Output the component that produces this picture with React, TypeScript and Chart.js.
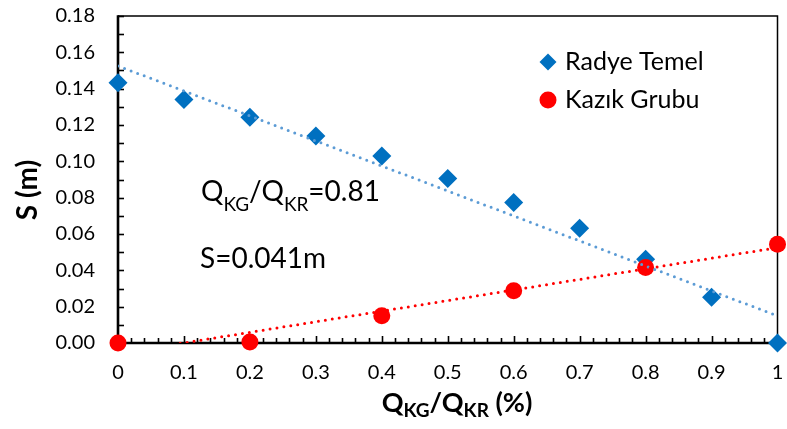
import React, { useEffect, useRef } from 'react';
import { Chart, registerables } from 'chart.js';

Chart.register(...registerables);

// ---- Data ----
const radyeX = [0, 0.1, 0.2, 0.3, 0.4, 0.5, 0.6, 0.7, 0.8, 0.9, 1.0];
const radyeTemel = [0.1433, 0.1341, 0.1242, 0.1139, 0.1029, 0.0906, 0.0774, 0.0631, 0.0461, 0.0252, 0.0];
const kazikX = [0, 0.2, 0.4, 0.6, 0.8, 1.0];
const kazikGrubu = [0.0, 0.0006, 0.015, 0.0288, 0.0415, 0.0543];

const xTickStep = 0.1;
const xMinorStep = 0.02;
const yTickStep = 0.02;
const yMinorStep = 0.01;
const xMin = 0, xMax = 1, yMin = 0, yMax = 0.18;

const legendLabels = ['Radye Temel', 'Kazık Grubu'];
const annotationRatio = '=0.81';
const annotationS = 'S=0.041m';

const BLUE = '#0070C0';
const BLUE_TREND = '#5B9BD5';
const RED = '#FF0000';
const FONT = 'Lato, "Open Sans", sans-serif';

function linReg(xs: number[], ys: number[]) {
  const n = xs.length;
  const mx = xs.reduce((a, b) => a + b, 0) / n;
  const my = ys.reduce((a, b) => a + b, 0) / n;
  let sxy = 0, sxx = 0;
  for (let i = 0; i < n; i++) {
    sxy += (xs[i] - mx) * (ys[i] - my);
    sxx += (xs[i] - mx) * (xs[i] - mx);
  }
  const m = sxy / sxx;
  return { m, b: my - m * mx };
}

function drawSubText(ctx: CanvasRenderingContext2D, parts: { t: string; sub?: boolean }[], x: number, y: number, mainFont: string, subFont: string, subDrop: number) {
  let cx = x;
  for (const p of parts) {
    ctx.font = p.sub ? subFont : mainFont;
    ctx.fillText(p.t, cx, p.sub ? y + subDrop : y);
    cx += ctx.measureText(p.t).width;
  }
  return cx - x;
}

function measureSubText(ctx: CanvasRenderingContext2D, parts: { t: string; sub?: boolean }[], mainFont: string, subFont: string) {
  let w = 0;
  for (const p of parts) {
    ctx.font = p.sub ? subFont : mainFont;
    w += ctx.measureText(p.t).width;
  }
  return w;
}

const decorPlugin = {
  id: 'decor',
  beforeDatasetsDraw(chart: any) {
    const { ctx, chartArea: a, scales } = chart;
    const x = scales.x, y = scales.y;
    ctx.save();
    ctx.strokeStyle = '#000';
    ctx.lineWidth = 1.5;
    ctx.beginPath();
    ctx.moveTo(a.left, a.top);
    ctx.lineTo(a.right, a.top);
    ctx.lineTo(a.right, a.bottom);
    ctx.stroke();
    // x ticks (inside)
    ctx.lineWidth = 1.6;
    const nx = Math.round((xMax - xMin) / xMinorStep);
    for (let i = 0; i <= nx; i++) {
      const v = xMin + i * xMinorStep;
      const px = Math.round(x.getPixelForValue(v)) + 0.5;
      const major = i % Math.round(xTickStep / xMinorStep) === 0;
      ctx.beginPath();
      ctx.moveTo(px, a.bottom);
      ctx.lineTo(px, a.bottom - (major ? 7 : 5));
      ctx.stroke();
    }
    const ny = Math.round((yMax - yMin) / yMinorStep);
    for (let i = 0; i <= ny; i++) {
      const v = yMin + i * yMinorStep;
      const py = Math.round(y.getPixelForValue(v)) + 0.5;
      ctx.beginPath();
      ctx.moveTo(a.left, py);
      ctx.lineTo(a.left + 6, py);
      ctx.stroke();
    }
    // main axes
    ctx.lineWidth = 2.6;
    ctx.beginPath();
    ctx.moveTo(a.left, a.top - 0.75);
    ctx.lineTo(a.left, a.bottom);
    ctx.lineTo(a.right + 0.75, a.bottom);
    ctx.stroke();
    ctx.restore();
  },
  afterDraw(chart: any) {
    const { ctx, chartArea: a } = chart;
    ctx.save();
    ctx.fillStyle = '#000';
    ctx.textBaseline = 'alphabetic';
    ctx.textAlign = 'left';

    // annotations
    drawSubText(ctx, [{ t: 'Q' }, { t: 'KG', sub: true }, { t: '/Q' }, { t: 'KR', sub: true }, { t: annotationRatio }], 201, 201, `28px ${FONT}`, `19px ${FONT}`, 10);
    ctx.font = `28px ${FONT}`;
    ctx.fillText(annotationS, 200, 268);

    // legend
    ctx.fillStyle = BLUE;
    ctx.beginPath();
    const lx = 548;
    ctx.moveTo(lx - 8.5, 62); ctx.lineTo(lx, 53.5); ctx.lineTo(lx + 8.5, 62); ctx.lineTo(lx, 70.5);
    ctx.closePath(); ctx.fill();
    ctx.fillStyle = RED;
    ctx.beginPath(); ctx.arc(lx, 100, 8.5, 0, Math.PI * 2); ctx.fill();
    ctx.fillStyle = '#000';
    ctx.font = `25px ${FONT}`;
    ctx.fillText(legendLabels[0], 565, 70);
    ctx.fillText(legendLabels[1], 565, 108);

    // x axis title
    const parts = [{ t: 'Q' }, { t: 'KG', sub: true }, { t: '/Q' }, { t: 'KR', sub: true }, { t: ' (%)' }];
    const mf = `bold 27px ${FONT}`, sf = `bold 19px ${FONT}`;
    const w = measureSubText(ctx, parts, mf, sf);
    const cx = 457;
    drawSubText(ctx, parts, cx - w / 2, 412, mf, sf, 5);

    // y axis title
    ctx.translate(28, 190);
    ctx.rotate(-Math.PI / 2);
    ctx.font = `bold 28px ${FONT}`;
    ctx.textAlign = 'center';
    ctx.textBaseline = 'middle';
    ctx.fillText('S (m)', 0, 0);
    ctx.restore();
  },
};

export default function App() {
  const ref = useRef<HTMLCanvasElement | null>(null);
  useEffect(() => {
    document.body.style.margin = '0';
    const canvas = ref.current;
    if (!canvas) return;
    const blueFit = linReg(radyeX, radyeTemel);
    const redFit = linReg(kazikX, kazikGrubu);
    const chart = new Chart(canvas, {
      type: 'scatter',
      data: {
        datasets: [
          {
            label: 'Radye Temel trend',
            type: 'line',
            data: [
              { x: xMin, y: blueFit.b },
              { x: xMax, y: blueFit.m * xMax + blueFit.b },
            ],
            borderColor: BLUE_TREND,
            borderWidth: 3,
            borderDash: [0, 7],
            borderCapStyle: 'round',
            pointRadius: 0,
            fill: false,
            order: 1,
          },
          {
            label: 'Kazık Grubu trend',
            type: 'line',
            data: [
              { x: xMin, y: redFit.b },
              { x: xMax, y: redFit.m * xMax + redFit.b },
            ],
            borderColor: RED,
            borderWidth: 3,
            borderDash: [0, 7],
            borderCapStyle: 'round',
            pointRadius: 0,
            fill: false,
            order: 0,
            clip: 0,
          },
          {
            label: legendLabels[0],
            data: radyeX.map((x, i) => ({ x, y: radyeTemel[i] })),
            pointStyle: 'rectRot',
            pointRadius: 9.5,
            pointBackgroundColor: BLUE,
            pointBorderColor: BLUE,
            pointBorderWidth: 0,
            order: 3,
            clip: false,
          },
          {
            label: legendLabels[1],
            data: kazikX.map((x, i) => ({ x, y: kazikGrubu[i] })),
            pointStyle: 'circle',
            pointRadius: 8.5,
            pointBackgroundColor: RED,
            pointBorderColor: RED,
            pointBorderWidth: 0,
            order: 2,
            clip: false,
          },
        ],
      } as any,
      options: {
        animation: false,
        responsive: false,
        layout: { padding: { left: 0, right: 7, top: 16, bottom: 0 } },
        plugins: { legend: { display: false }, tooltip: { enabled: false } },
        scales: {
          x: {
            type: 'linear',
            min: xMin,
            max: xMax,
            grid: { display: false, drawTicks: true, tickLength: 18 },
            border: { display: false },
            ticks: {
              stepSize: xTickStep,
              padding: 0,
              color: '#000',
              font: { family: FONT, size: 20 },
              callback: (v: any) => {
                const n = Number(v);
                if (Math.abs(n) < 1e-9) return '0';
                if (Math.abs(n - 1) < 1e-9) return '1';
                return n.toFixed(1);
              },
            },
            afterFit: (s: any) => { s.height = 86; },
          },
          y: {
            type: 'linear',
            min: yMin,
            max: yMax,
            grid: { display: false, drawTicks: true, tickLength: 23 },
            border: { display: false },
            ticks: {
              stepSize: yTickStep,
              padding: 0,
              color: '#000',
              font: { family: FONT, size: 20 },
              callback: (v: any) => Number(v).toFixed(2),
            },
            afterFit: (s: any) => { s.width = 118; },
          },
        },
      } as any,
      plugins: [decorPlugin],
    });
    return () => chart.destroy();
  }, []);
  return (
    <div style={{ width: 787, height: 429, background: '#fff' }}>
      <canvas ref={ref} width={787} height={429} />
    </div>
  );
}
